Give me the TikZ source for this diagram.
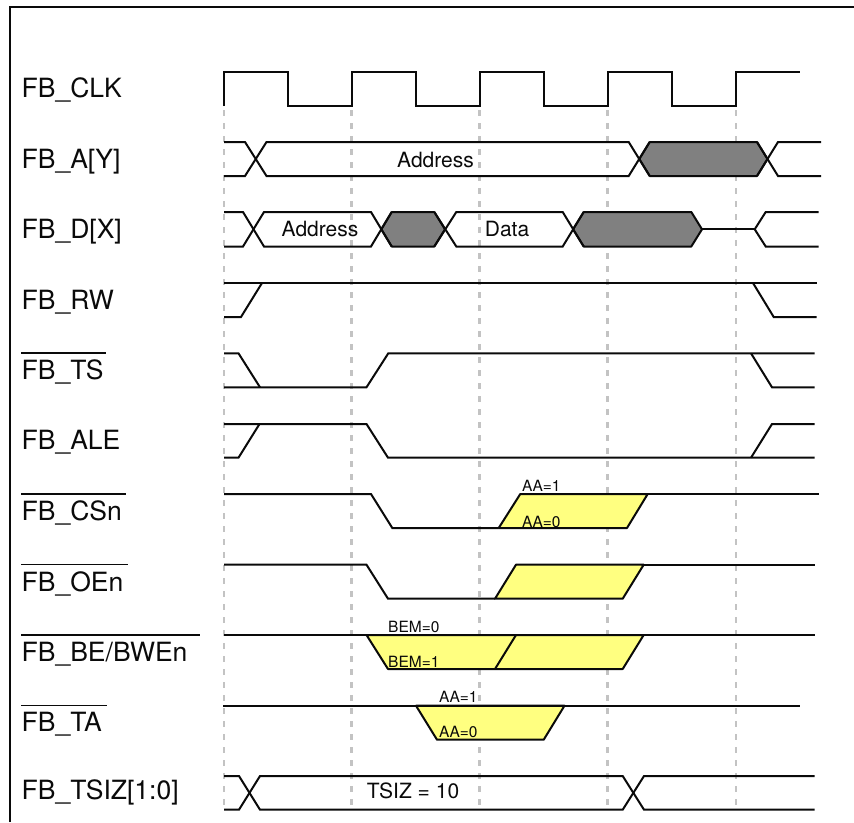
\documentclass[tikz,border=0pt]{standalone}
\usepackage{fontspec}
\setmainfont{TeX Gyre Heros}
\definecolor{sigyellow}{RGB}{255,255,128}
\definecolor{siggrey}{RGB}{128,128,128}
\definecolor{guidegrey}{RGB}{195,195,195}
\definecolor{ink}{RGB}{10,10,10}
\tikzset{
  wave/.style={line width=2pt,ink,line join=miter,line cap=butt},
  thinwave/.style={line width=1.7pt,ink},
  frameline/.style={line width=1.7pt,ink},
  gridline/.style={line width=2.3pt,guidegrey,dash pattern=on 5.5pt off 7.5pt},
  greyfill/.style={wave,fill=siggrey,line join=round},
  yellowfill/.style={wave,fill=sigyellow,line join=round},
  siglabel/.style={anchor=base west,inner sep=0pt,font=\fontsize{26.5}{28}\selectfont,text=ink},
  overbar/.style={line width=1.7pt,ink},
  buslabel/.style={anchor=base west,inner sep=0pt,font=\fontsize{21}{22}\selectfont,text=ink},
  tinylabel/.style={anchor=base west,inner sep=0pt,font=\fontsize{15.5}{17}\selectfont,text=ink},
}
\begin{document}
\begin{tikzpicture}[x=1pt,y=-1pt]
\useasboundingbox (0,0) rectangle (854,822);
% frame
\draw[frameline] (10,822) -- (10,7) -- (854,7);
% clock-edge guides
\foreach \gx in {224,351.5,479.5,607.5,735.7}
  \draw[gridline] (\gx,110) -- (\gx,808);
% FB_CLK
\draw[wave] (224,106) -- (224,71.5) -- (287.7,71.5) -- (287.7,105.5) -- (351.5,105.5) -- (351.5,71.5) -- (416,71.5) -- (416,105.5) -- (479.5,105.5) -- (479.5,71.5) -- (544,71.5) -- (544,105.5) -- (607.5,105.5) -- (607.5,71.5) -- (672,71.5) -- (672,105.5) -- (735.7,105.5) -- (735.7,71.5) -- (799.5,71.5);
% FB_A[Y]
\draw[greyfill] (639.3,159) -- (649.7,142) -- (757,142) -- (767.5,159) -- (757,176) -- (649.7,176) -- cycle;
\draw[wave] (224,142) -- (245,142) -- (266.5,176) -- (628.7,176) -- (649.7,142);
\draw[wave] (224,176) -- (245,176) -- (266.5,142) -- (628.7,142) -- (649.7,176);
\draw[wave] (757,142) -- (778,176) -- (821,176);
\draw[wave] (757,176) -- (778,142) -- (821,142);
% FB_D[X]
\draw[greyfill] (381.3,229.3) -- (391.7,212) -- (434.3,212) -- (445,229.3) -- (434.3,246.5) -- (391.7,246.5) -- cycle;
\draw[greyfill] (573,229.3) -- (583.7,212) -- (691.3,212) -- (702,229.3) -- (691.3,246.5) -- (583.7,246.5) -- cycle;
\draw[wave] (224,212) -- (243,212) -- (264,246.5) -- (371,246.5) -- (391.7,212);
\draw[wave] (224,246.5) -- (243,246.5) -- (264,212) -- (371,212) -- (391.7,246.5);
\draw[wave] (434.3,212) -- (456.3,246.5) -- (562.7,246.5) -- (583.7,212);
\draw[wave] (434.3,246.5) -- (456.3,212) -- (562.7,212) -- (583.7,246.5);
\draw[thinwave] (702,229.3) -- (754.7,229.3);
\draw[wave] (818.7,212) -- (765.7,212) -- (754.7,229.3) -- (765.7,246.5) -- (818.7,246.5);
% FB_RW
\draw[wave] (224,283) -- (816.5,283);
\draw[wave] (224,317) -- (241,317) -- (262,283);
\draw[wave] (753,283) -- (773.7,317) -- (816.5,317);
% FB_TS
\draw[wave] (224,353.3) -- (238.5,353.3) -- (260,387.3);
\draw[wave] (224,387.3) -- (366.5,387.3) -- (388.3,353.3) -- (814.7,353.3);
\draw[wave] (751,353.3) -- (772,387.3) -- (814.7,387.3);
% FB_ALE
\draw[wave] (224,457.7) -- (238.5,457.7) -- (259.5,424);
\draw[wave] (224,424) -- (366.5,424) -- (388,457.7) -- (814.7,457.7);
\draw[wave] (751,457.7) -- (772,424) -- (814.7,424);
% FB_CSn
\draw[yellowfill] (498.7,528) -- (520.3,494) -- (647.7,494) -- (627,528) -- cycle;
\draw[wave] (224,494) -- (371,494) -- (392.3,528) -- (498.7,528);
\draw[wave] (647.7,494) -- (819,494);
% FB_OEn
\draw[yellowfill] (495,598.7) -- (516,564.7) -- (643.7,564.7) -- (622.7,598.7) -- cycle;
\draw[wave] (224,564.7) -- (366.5,564.7) -- (388,598.7) -- (495,598.7);
\draw[wave] (643.7,564.7) -- (814.7,564.7);
% FB_BE/BWEn
\draw[yellowfill] (366.5,635) -- (388,669) -- (622.7,669) -- (643.7,635) -- cycle;
\draw[wave] (495,669) -- (516,635);
\draw[wave] (224,635) -- (814.7,635);
% FB_TA
\draw[yellowfill] (416,705.7) -- (437,739.7) -- (543.7,739.7) -- (564.5,705.7) -- cycle;
\draw[thinwave] (223,705.7) -- (799.5,705.7);
% FB_TSIZ
\draw[wave] (224,776) -- (239,776) -- (260,809.7) -- (622.7,809.7) -- (644,776) -- (814.7,776);
\draw[wave] (224,809.7) -- (239,809.7) -- (260,776) -- (622.7,776) -- (644,809.7) -- (814.7,809.7);
% signal names
\node[siglabel] (lclk) at (21.5,97) {FB\_CLK};
\node[siglabel] (la) at (21.5,168.5) {FB\_A[Y]};
\node[siglabel] (ld) at (21.5,238) {FB\_D[X]};
\node[siglabel] (lrw) at (21.5,309) {FB\_RW};
\node[siglabel] (lts) at (21.5,379) {FB\_TS};
\node[siglabel] (lale) at (21.5,449) {FB\_ALE};
\node[siglabel] (lcs) at (21.5,520) {FB\_CSn};
\node[siglabel] (loe) at (21.5,591) {FB\_OEn};
\node[siglabel] (lbe) at (21.5,661) {FB\_BE/BWEn};
\node[siglabel] (lta) at (21.5,731) {FB\_TA};
\node[siglabel] (ltsiz) at (21.5,799) {FB\_TSIZ[1:0]};
% active-low bars
\draw[overbar] (21,353) -- (106,353);
\draw[overbar] (21,494) -- (125.7,494);
\draw[overbar] (21,564.5) -- (127.7,564.5);
\draw[overbar] (21,635) -- (200,635);
\draw[overbar] (21,705.5) -- (106.5,705.5);
% bus values
\node[buslabel] (va) at (397,167.5) {Address};
\node[buslabel] (vd) at (281.5,236) {Address};
\node[buslabel] (vdata) at (484.7,236) {Data};
\node[buslabel] (vt) at (366.7,798) {TSIZ = 10};
% annotations
\node[tinylabel] (csa1) at (522,491) {AA=1};
\node[tinylabel] (csa0) at (522,527.5) {AA=0};
\node[tinylabel] (bem0) at (388,632.5) {BEM=0};
\node[tinylabel] (bem1) at (388,667) {BEM=1};
\node[tinylabel] (taa1) at (439,702) {AA=1};
\node[tinylabel] (taa0) at (439,737.5) {AA=0};
\end{tikzpicture}
\end{document}
